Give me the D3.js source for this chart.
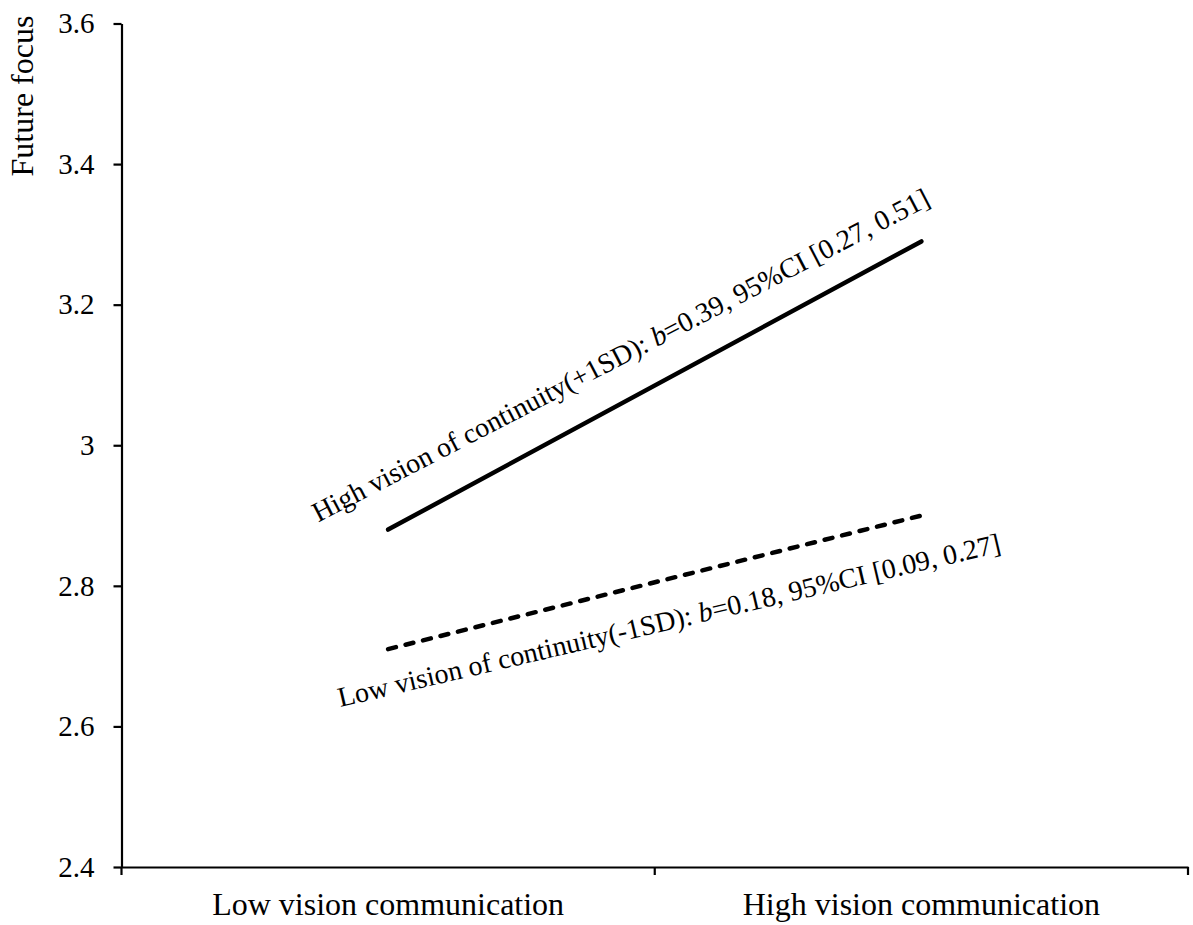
<!DOCTYPE html>
<html>
<head>
<meta charset="utf-8">
<script src="https://cdn.jsdelivr.net/npm/d3@7"></script>
<style>
  html, body { margin: 0; padding: 0; background: #fff; }
  svg, svg text { font-family: "Liberation Serif", "Times New Roman", Times, serif; }
</style>
</head>
<body>
<svg id="chart" width="1193" height="925"></svg>
<script>
// Simple slopes: future focus by vision communication, at high/low vision of continuity
const categories = ["Low vision communication", "High vision communication"];
const highContinuity = [2.88, 3.29];
const lowContinuity = [2.71, 2.90];
const yTicks = [2.4, 2.6, 2.8, 3.0, 3.2, 3.4, 3.6];
const yTickLabels = ["2.4", "2.6", "2.8", "3", "3.2", "3.4", "3.6"];
const yTitle = "Future focus";
const highLabel = ["High vision of continuity(+1SD): ", "b", "=0.39, 95%CI [0.27, 0.51]"];
const lowLabel = ["Low vision of continuity(-1SD): ", "b", "=0.18, 95%CI [0.09, 0.27]"];

const serif = '"Liberation Serif", "Times New Roman", Times, serif';
const svg = d3.select("#chart");

const x = d3.scaleBand().domain(categories).range([121.5, 1188]).padding(0);
const y = d3.scaleLinear().domain([2.4, 3.6]).range([867, 23.5]);

// Y axis
const yAxis = svg.append("g")
  .attr("transform", `translate(${x.range()[0]},0)`)
  .call(d3.axisLeft(y).tickValues(yTicks)
    .tickFormat((d, i) => yTickLabels[i])
    .tickSize(8).tickSizeOuter(0).tickPadding(19));
yAxis.attr("font-family", null);
yAxis.selectAll("text").style("font-family", serif).style("font-size", "29px").attr("fill", "#000");
yAxis.selectAll("line, path").attr("stroke", "#000").attr("stroke-width", 2.2);

// X axis: category labels centred in bands, ticks at band boundaries
const xAxis = svg.append("g")
  .attr("transform", `translate(0,${y(2.4)})`)
  .call(d3.axisBottom(x).tickSize(0).tickSizeOuter(0).tickPadding(25));
xAxis.attr("font-family", null);
xAxis.selectAll("text").style("font-family", serif).style("font-size", "32px").attr("fill", "#000");
xAxis.select(".domain").attr("stroke", "#000").attr("stroke-width", 2.2);
const bounds = categories.map(c => x(c)).concat([x.range()[1]]);
xAxis.selectAll(".bound").data(bounds).join("line")
  .attr("class", "bound")
  .attr("x1", d => d).attr("x2", d => d)
  .attr("y1", 0).attr("y2", 8)
  .attr("stroke", "#000").attr("stroke-width", 2.2);

// Y title
svg.append("text")
  .attr("transform", `translate(33,96) rotate(-90)`)
  .attr("text-anchor", "middle")
  .style("font-family", serif).style("font-size", "32px")
  .text(yTitle);

// Lines
const cx = c => x(c) + x.bandwidth() / 2;
const line = d3.line().x(d => cx(d.c)).y(d => y(d.v));
const toPts = vals => categories.map((c, i) => ({ c, v: vals[i] }));

svg.append("path")
  .datum(toPts(highContinuity))
  .attr("d", line)
  .attr("fill", "none").attr("stroke", "#000")
  .attr("stroke-width", 4.5).attr("stroke-linecap", "round");

svg.append("path")
  .datum(toPts(lowContinuity))
  .attr("d", line)
  .attr("fill", "none").attr("stroke", "#000")
  .attr("stroke-width", 4.5).attr("stroke-linecap", "round")
  .attr("stroke-dasharray", "8,10");

// Slope annotations
function slopeLabel(parts, px, py, angle) {
  const t = svg.append("text")
    .attr("transform", `translate(${px},${py}) rotate(${angle})`)
    .style("font-family", serif).style("font-size", "28px");
  t.append("tspan").text(parts[0]);
  t.append("tspan").style("font-style", "italic").text(parts[1]);
  t.append("tspan").text(parts[2]);
}
slopeLabel(highLabel, cx(categories[0]) - 70, y(highContinuity[0]) - 7, -27.4);
slopeLabel(lowLabel, cx(categories[0]) - 48, y(lowContinuity[0]) + 58, -13.2);
</script>
</body>
</html>
